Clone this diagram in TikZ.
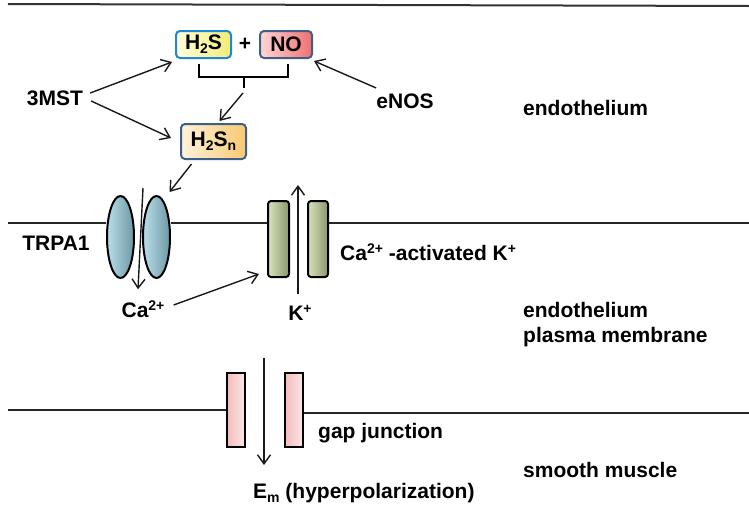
\documentclass[tikz,border=0pt]{standalone}
\usepackage{fontspec}
\setmainfont{Liberation Sans}
\usetikzlibrary{arrows.meta,shapes.geometric}
\newcommand\mysub[1]{\raisebox{-0.35ex}{\fontsize{14}{14}\selectfont #1}}
\newcommand\mysup[1]{\raisebox{0.65ex}{\fontsize{14}{14}\selectfont #1}}
\definecolor{boxblue}{HTML}{1E88D8}
\definecolor{boxdark}{HTML}{3E5E8C}
\definecolor{h2sl}{HTML}{FFFFD8}
\definecolor{h2sr}{HTML}{F2EC78}
\definecolor{nol}{HTML}{FFD6D6}
\definecolor{nor}{HTML}{F07070}
\definecolor{snl}{HTML}{FFF2DC}
\definecolor{snr}{HTML}{F8C870}
\definecolor{trpl}{HTML}{B8DEE8}
\definecolor{trpr}{HTML}{6E98A6}
\definecolor{kl}{HTML}{D8E2BC}
\definecolor{kr}{HTML}{8A986E}
\definecolor{gl}{HTML}{F4BCBC}
\definecolor{gr}{HTML}{FBE6E6}
\tikzset{
  lbl/.style={inner sep=3pt, font=\fontsize{21}{25}\selectfont\bfseries, text=black},
  mlbl/.style={lbl, align=left},
  arr/.style={-{Straight Barb[length=9pt,width=13pt,line width=1.4pt]}, line width=1.4pt, draw=black!90},
  membrane/.style={line width=1.5pt, draw=black!85},
  molbox/.style={rounded corners=4pt, line width=2pt, inner sep=0pt, font=\fontsize{21}{25}\selectfont\bfseries},
  trp/.style={ellipse, draw=black, line width=2pt, inner sep=0pt, minimum width=27pt, minimum height=82pt, left color=trpl, right color=trpr},
  kch/.style={rectangle, rounded corners=3pt, draw=black, line width=2pt, inner sep=0pt, minimum width=21pt, minimum height=76pt, left color=kl, right color=kr},
  gj/.style={rectangle, draw=black, line width=2pt, inner sep=0pt, minimum width=18pt, minimum height=74pt, left color=gl, right color=gr},
}
\begin{document}
\begin{tikzpicture}[x=1pt,y=-1pt]
\useasboundingbox (0,0) rectangle (749,509);
% top line
\coordinate (tl) at (8,4);
\coordinate (tr) at (749,6);
\draw[line width=2pt, draw=black!80] (tl) -- (tr);

% molecule boxes
\node[molbox, draw=boxblue, left color=h2sl, right color=h2sr, minimum width=55pt, minimum height=27pt] (h2s) at (203.5,44.5) {H\mysub{2}S};
\node[lbl] (plus) at (245,44) {+};
\node[molbox, draw=boxdark, left color=nol, right color=nor, minimum width=52pt, minimum height=27pt] (no) at (286,44.5) {NO};
\node[molbox, draw=boxdark, left color=snl, right color=snr, minimum width=65pt, minimum height=35pt] (h2sn) at (213.5,141.5) {H\mysub{2}S\mysub{n}};

% bracket
\coordinate (b1) at (199,64);
\coordinate (b2) at (199,77);
\coordinate (b3) at (288,77);
\coordinate (b4) at (288,64);
\coordinate (bm) at (244,77);
\coordinate (bt) at (244,88);
\draw[line width=1.4pt] (b1) -- (b2) -- (b3) -- (b4);
\draw[line width=1.4pt] (bm) -- (bt);
\coordinate (bs) at (243,93);
\draw[arr] (bs) -- ([shift={(6,-2)}]h2sn.north);

% labels
\node[lbl] (mst) at (55,98) {3MST};
\node[lbl] (enos) at (405,101) {eNOS};
\draw[arr] ([shift={(4,-5)}]mst.east) -- ([shift={(-3,3)}]h2s.south west);
\draw[arr] ([shift={(5,3)}]mst.east) -- ([shift={(-9,-3.5)}]h2sn.west);
\draw[arr] ([shift={(3,-13)}]enos.west) -- ([shift={(1,2)}]no.south east);

% TRPA1 channel
\node[trp] (trpL) at (120.5,237) {};
\node[trp] (trpR) at (156.5,237) {};
\node[lbl] (trpa) at (56,243) {TRPA1};
\draw[arr] ([shift={(-22,4)}]h2sn.south) -- ([shift={(13,-3)}]trpR.north);
\coordinate (ca1) at (143,188);
\node[lbl] (ca) at (143,309) {Ca\mysup{2+}};
\draw[arr] (ca1) -- ([shift={(-5,-8)}]ca.north);

% K channel
\node[kch] (kL) at (278.5,239) {};
\node[kch, minimum width=20pt] (kR) at (318,239) {};
\node[lbl] (kp) at (300,313) {K\mysup{+}};
\coordinate (kt) at (298,185);
\draw[arr] ([shift={(-2,-8)}]kp.north) -- (kt);
\draw[arr] ([shift={(6,-4)}]ca.east) -- ([shift={(-8,-4)}]kL.south west);
\node[lbl, anchor=west] (cak) at (337,252) {Ca\mysup{2+} -activated K\mysup{+}};

% membrane line 2
\coordinate (m2l) at (8,223);
\coordinate (m2r) at (749,223);
\draw[membrane] (m2l) -- (trpL.west |- m2l);
\draw[membrane] (trpR.east |- m2l) -- (kL.west |- m2l);
\draw[membrane] (kR.east |- m2r) -- (m2r);

% gap junction
\node[gj] (gL) at (236,410) {};
\node[gj] (gR) at (294,410) {};
\coordinate (m3l) at (8,410);
\coordinate (m3r) at (749,413);
\draw[membrane] (m3l) -- (gL.west);
\draw[membrane] (gR.east |- m3r) -- (m3r);
\coordinate (gt) at (264,358);
\node[lbl, anchor=west] (em) at (250,493) {E\mysub{m} (hyperpolarization)};
\draw[arr] (gt) -- (264,465);
\node[lbl, anchor=west] (gap) at (315,433) {gap junction};

% region labels
\node[lbl, anchor=west] (endo) at (520,108) {endothelium};
\node[mlbl, anchor=west] (endopm) at (520,325) {endothelium\\plasma membrane};
\node[lbl, anchor=west] (sm) at (520,470) {smooth muscle};
\end{tikzpicture}
\end{document}
